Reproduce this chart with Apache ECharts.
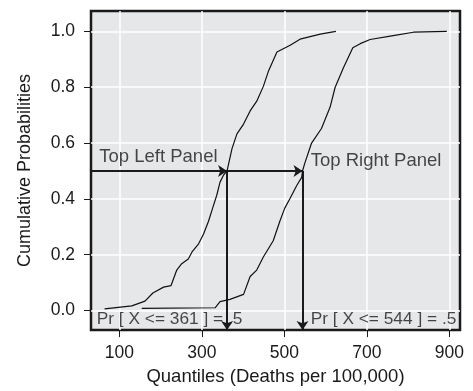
<!DOCTYPE html>
<html>
<head>
    <meta charset="utf-8">
    <title>Cumulative Probabilities</title>
    <script src="https://cdn.jsdelivr.net/npm/echarts@6/dist/echarts.min.js"></script>
    <style>
        html, body { margin: 0; padding: 0; background: #fff; }
        #chart1 { width: 473px; height: 391px; }
    </style>
</head>
<body>
<div id="chart1"></div>
<script type="text/javascript">
    // 刻度
    var xTicks = [100, 300, 500, 700, 900];
    var yTicks = [0, 0.2, 0.4, 0.6, 0.8, 1.0];

    // 左上面板的经验累积分布 [分位数, 概率]
    var leftCurve = [
        [64, 0.006], [130, 0.017], [162, 0.034], [181, 0.063], [207, 0.084],
        [225, 0.089], [239, 0.145], [251, 0.168], [267, 0.185], [276, 0.21],
        [292, 0.239], [304, 0.274], [316, 0.32], [326, 0.367], [336, 0.413],
        [344, 0.46], [352, 0.484], [361, 0.5], [373, 0.58], [385, 0.633],
        [401, 0.668], [417, 0.715], [433, 0.75], [449, 0.803], [461, 0.856],
        [482, 0.926], [514, 0.95], [538, 0.972], [587, 0.99], [625, 1.0]
    ];

    // 右上面板的经验累积分布
    var rightCurve = [
        [154, 0.008], [332, 0.01], [344, 0.032], [368, 0.04], [401, 0.058],
        [417, 0.122], [433, 0.145], [449, 0.192], [473, 0.25], [489, 0.32],
        [501, 0.367], [514, 0.402], [530, 0.448], [542, 0.477], [544, 0.5],
        [550, 0.53], [566, 0.6], [590, 0.652], [611, 0.729], [623, 0.799],
        [643, 0.869], [666, 0.941], [684, 0.956], [708, 0.971], [764, 0.985],
        [813, 0.997], [894, 1.0]
    ];

    // 中位数与箭头
    var medians = [361, 544];
    var medianProb = 0.5;
    var xMin = 31, xMax = 926, yMin = -0.07, yMax = 1.073;

    // 文字标注 [x, y, 文本]
    var panelNotes = [
        [51, 0.549, 'Top Left Panel'],
        [564, 0.535, 'Top Right Panel']
    ];
    var probNotes = [
        [45, -0.030, 'Pr [ X <= 361 ] = .5'],
        [564, -0.030, 'Pr [ X <= 544 ] = .5']
    ];

    var arrows = [
        {coords: [[xMin, medianProb], [medians[0], medianProb]]},
        {coords: [[medians[0], medianProb], [medians[1], medianProb]]},
        {coords: [[medians[0], medianProb], [medians[0], yMin]]},
        {coords: [[medians[1], medianProb], [medians[1], yMin]]}
    ];

    var textColor = '#1a1a1a';
    var font = 'Liberation Sans, Arial, sans-serif';

    function noteSeries(data, size) {
        return {
            type: 'scatter',
            data: data,
            symbolSize: 0,
            silent: true,
            label: {
                show: true,
                position: 'right',
                distance: 0,
                formatter: function (p) { return p.data[2]; },
                fontSize: size,
                color: textColor,
                fontFamily: font
            }
        };
    }

    var myChart1 = echarts.init(document.getElementById('chart1'));
    myChart1.setOption({
        animation: false,
        grid: {
            left: 91, right: 13, top: 11, bottom: 53,
            show: true,
            backgroundColor: '#e6e7e9',
            borderColor: '#1a1a1a',
            borderWidth: 2.5
        },
        xAxis: {
            type: 'value',
            min: xMin,
            max: xMax,
            name: 'Quantiles (Deaths per 100,000)',
            nameLocation: 'middle',
            nameGap: 34,
            nameTextStyle: {fontSize: 18.5, color: textColor, fontFamily: font},
            axisLine: {show: false, onZero: false},
            axisTick: {show: true, length: 7, customValues: xTicks, lineStyle: {color: textColor, width: 1}},
            axisLabel: {customValues: xTicks, fontSize: 17.5, color: textColor, fontFamily: font, margin: 14},
            splitLine: {show: true, lineStyle: {color: '#ffffff', width: 1.5}}
        },
        yAxis: {
            type: 'value',
            min: yMin,
            max: yMax,
            name: 'Cumulative Probabilities',
            nameLocation: 'middle',
            nameGap: 57,
            nameTextStyle: {fontSize: 18, color: textColor, fontFamily: font},
            axisLine: {show: false, onZero: false},
            axisTick: {show: true, length: 7, customValues: yTicks, lineStyle: {color: textColor, width: 1}},
            axisLabel: {
                customValues: yTicks, fontSize: 17.5, color: textColor, fontFamily: font, margin: 16,
                formatter: function (v) { return v.toFixed(1); }
            },
            splitLine: {show: true, lineStyle: {color: '#ffffff', width: 1.5}}
        },
        series: [
            {
                type: 'line',
                data: leftCurve,
                showSymbol: false,
                lineStyle: {color: '#111', width: 1.2}
            },
            {
                type: 'line',
                data: rightCurve,
                showSymbol: false,
                lineStyle: {color: '#111', width: 1.2}
            },
            {
                type: 'lines',
                coordinateSystem: 'cartesian2d',
                data: arrows,
                symbol: ['none', 'arrow'],
                symbolSize: 9,
                lineStyle: {color: '#1a1a1a', width: 2, opacity: 1}
            },
            noteSeries(panelNotes, 18.5),
            noteSeries(probNotes, 17.3)
        ]
    });
</script>
</body>
</html>
